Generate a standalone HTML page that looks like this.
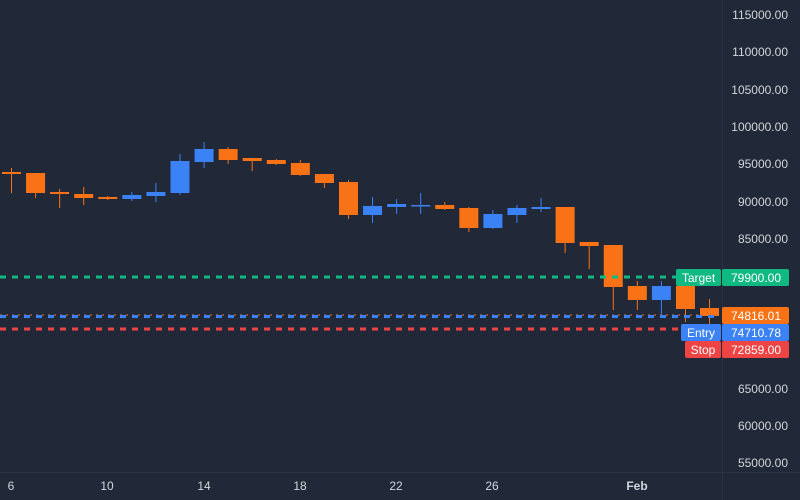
<!DOCTYPE html>
<html><head><style>
body{margin:0;background:#212837;}
svg{display:block;font-family:"Liberation Sans",sans-serif;}
</style></head><body>
<svg width="800" height="500" viewBox="0 0 800 500">
<rect width="800" height="500" fill="#212837"/>
<line x1="722.5" y1="0" x2="722.5" y2="500" stroke="#2c3344"/>
<line x1="0" y1="472.5" x2="800" y2="472.5" stroke="#2c3344"/>
<g font-size="12" fill="#d1d5db" text-anchor="end">
<text x="788" y="19">115000.00</text>
<text x="788" y="56">110000.00</text>
<text x="788" y="94">105000.00</text>
<text x="788" y="131">100000.00</text>
<text x="788" y="168">95000.00</text>
<text x="788" y="206">90000.00</text>
<text x="788" y="243">85000.00</text>
<text x="788" y="393">65000.00</text>
<text x="788" y="430">60000.00</text>
<text x="788" y="467">55000.00</text>
</g>
<g font-size="12" fill="#d1d5db" text-anchor="middle">
<text x="11" y="490">6</text>
<text x="107" y="490">10</text>
<text x="204" y="490">14</text>
<text x="300" y="490">18</text>
<text x="396" y="490">22</text>
<text x="492" y="490">26</text>
<text x="637" y="490" font-weight="bold">Feb</text>
</g>
<g stroke-width="1">
<g fill="#f97316" stroke="#f97316">
<line x1="11.5" y1="168" x2="11.5" y2="193"/><rect x="2" y="172" width="19" height="2" stroke="none"/>
<line x1="35.57" y1="173" x2="35.57" y2="198"/><rect x="26.07" y="173" width="19" height="20" stroke="none"/>
<line x1="59.64" y1="189" x2="59.64" y2="208"/><rect x="50.14" y="192" width="19" height="2" stroke="none"/>
<line x1="83.71" y1="187" x2="83.71" y2="205"/><rect x="74.21" y="194" width="19" height="4" stroke="none"/>
<line x1="107.78" y1="196" x2="107.78" y2="200"/><rect x="98.28" y="197" width="19" height="2" stroke="none"/>
<line x1="228.13" y1="147" x2="228.13" y2="164"/><rect x="218.63" y="149" width="19" height="11" stroke="none"/>
<line x1="252.2" y1="158" x2="252.2" y2="171"/><rect x="242.7" y="158" width="19" height="3" stroke="none"/>
<line x1="276.27" y1="159" x2="276.27" y2="165"/><rect x="266.77" y="160" width="19" height="4" stroke="none"/>
<line x1="300.34" y1="160" x2="300.34" y2="176"/><rect x="290.84" y="163" width="19" height="12" stroke="none"/>
<line x1="324.41" y1="174" x2="324.41" y2="188"/><rect x="314.91" y="174" width="19" height="9" stroke="none"/>
<line x1="348.48" y1="180" x2="348.48" y2="219"/><rect x="338.98" y="182" width="19" height="33" stroke="none"/>
<line x1="444.76" y1="202" x2="444.76" y2="210"/><rect x="435.26" y="205" width="19" height="4" stroke="none"/>
<line x1="468.83" y1="207" x2="468.83" y2="232"/><rect x="459.33" y="208" width="19" height="20" stroke="none"/>
<line x1="565.11" y1="207" x2="565.11" y2="253"/><rect x="555.61" y="207" width="19" height="36" stroke="none"/>
<line x1="589.18" y1="242" x2="589.18" y2="269"/><rect x="579.68" y="242" width="19" height="4" stroke="none"/>
<line x1="613.25" y1="245" x2="613.25" y2="310"/><rect x="603.75" y="245" width="19" height="42" stroke="none"/>
<line x1="637.32" y1="281" x2="637.32" y2="310"/><rect x="627.82" y="286" width="19" height="14" stroke="none"/>
<line x1="685.46" y1="286" x2="685.46" y2="322"/><rect x="675.96" y="286" width="19" height="23" stroke="none"/>
<line x1="709.53" y1="299" x2="709.53" y2="324"/><rect x="700.03" y="308" width="19" height="8" stroke="none"/>
</g>
<g fill="#3b82f6" stroke="#3b82f6">
<line x1="131.85" y1="192" x2="131.85" y2="201"/><rect x="122.35" y="195" width="19" height="4" stroke="none"/>
<line x1="155.92" y1="183" x2="155.92" y2="202"/><rect x="146.42" y="192" width="19" height="4" stroke="none"/>
<line x1="179.99" y1="154" x2="179.99" y2="195"/><rect x="170.49" y="161" width="19" height="32" stroke="none"/>
<line x1="204.06" y1="142" x2="204.06" y2="168"/><rect x="194.56" y="149" width="19" height="13" stroke="none"/>
<line x1="372.55" y1="197" x2="372.55" y2="223"/><rect x="363.05" y="206" width="19" height="9" stroke="none"/>
<line x1="396.62" y1="199" x2="396.62" y2="214"/><rect x="387.12" y="204" width="19" height="3" stroke="none"/>
<line x1="420.69" y1="193" x2="420.69" y2="214"/><rect x="411.19" y="205" width="19" height="1.5" stroke="none"/>
<line x1="492.9" y1="210" x2="492.9" y2="229"/><rect x="483.4" y="214" width="19" height="14" stroke="none"/>
<line x1="516.97" y1="205" x2="516.97" y2="223"/><rect x="507.47" y="208" width="19" height="7" stroke="none"/>
<line x1="541.04" y1="198" x2="541.04" y2="212"/><rect x="531.54" y="207" width="19" height="2" stroke="none"/>
<line x1="661.39" y1="281" x2="661.39" y2="316"/><rect x="651.89" y="286" width="19" height="14" stroke="none"/>
</g>
</g>
<line x1="0" y1="277" x2="720" y2="277" stroke="#10b981" stroke-width="3" stroke-dasharray="6,6"/>
<line x1="0" y1="315" x2="720" y2="315" stroke="#f97316" stroke-width="1" stroke-dasharray="2,4"/>
<line x1="0" y1="316.5" x2="720" y2="316.5" stroke="#3b82f6" stroke-width="3" stroke-dasharray="6,6"/>
<line x1="0" y1="329" x2="720" y2="329" stroke="#ef4444" stroke-width="3" stroke-dasharray="6,6"/>
<g font-size="12" fill="#fff" text-anchor="middle">
<rect x="676" y="269" width="45" height="17" fill="#10b981" rx="2"/><text x="698.5" y="282">Target</text>
<rect x="722" y="269" width="67" height="17" fill="#10b981" rx="2"/><text x="756" y="282">79900.00</text>
<rect x="722" y="307" width="67" height="17" fill="#f97316" rx="2"/><text x="756" y="320">74816.01</text>
<rect x="681" y="324" width="40" height="17" fill="#3b82f6" rx="2"/><text x="701" y="337">Entry</text>
<rect x="722" y="324" width="67" height="17" fill="#3b82f6" rx="2"/><text x="756" y="337">74710.78</text>
<rect x="685" y="341" width="36" height="17" fill="#ef4444" rx="2"/><text x="703" y="354">Stop</text>
<rect x="722" y="341" width="67" height="17" fill="#ef4444" rx="2"/><text x="756" y="354">72859.00</text>
</g>
</svg>
</body></html>
